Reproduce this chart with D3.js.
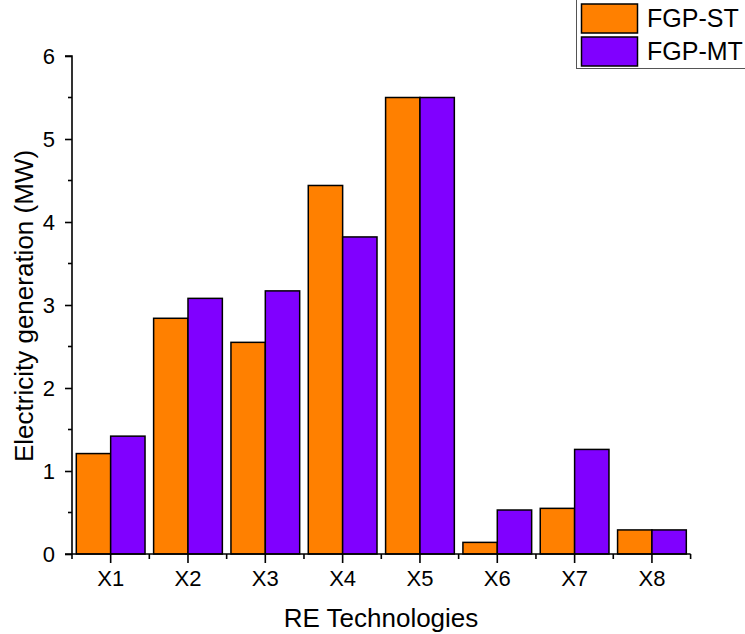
<!DOCTYPE html>
<html><head><meta charset="utf-8">
<script src="https://cdn.jsdelivr.net/npm/d3@7"></script>
<style>body{margin:0;background:#fff}svg{display:block;font-family:"Liberation Sans",Arial,sans-serif}</style>
</head><body>
<svg id="c" width="745" height="634"></svg>
<script>
const categories = ["X1","X2","X3","X4","X5","X6","X7","X8"];
const seriesNames = ["FGP-ST","FGP-MT"];
const stValues = [1.21, 2.84, 2.55, 4.44, 5.50, 0.14, 0.55, 0.29];
const mtValues = [1.42, 3.08, 3.17, 3.82, 5.50, 0.53, 1.26, 0.29];
const yTicks = [0,1,2,3,4,5,6];
const colors = ["#FF8000","#8000FF"];

const svg = d3.select("#c");
const L=72, R=690.6, T=56, B=554;
const x = d3.scaleBand().domain(categories).range([L,R]).paddingInner(0).paddingOuter(0);
const xs = d3.scaleBand().domain(seriesNames).range([0,x.bandwidth()]).paddingInner(0).paddingOuter(0.125);
const y = d3.scaleLinear().domain([0,6]).range([B,T]);

const data = categories.map((c,i)=>({c, vals:[stValues[i], mtValues[i]]}));
const g = svg.append("g");
data.forEach(d=>{
  d.vals.forEach((v,j)=>{
    g.append("rect")
      .attr("x", x(d.c)+xs(seriesNames[j]))
      .attr("y", y(v))
      .attr("width", xs.bandwidth())
      .attr("height", y(0)-y(v))
      .attr("fill", colors[j]).attr("stroke","#000").attr("stroke-width",1.5);
  });
});

// Y axis
const yAx = svg.append("g").attr("transform",`translate(${L},0)`)
  .call(d3.axisLeft(y).tickValues(yTicks).tickFormat(d3.format("d")).tickSize(7).tickPadding(10));
yAx.attr("font-family",null).attr("font-size",null);
yAx.select(".domain").attr("d",`M-7,${T}H0V${B}`).attr("stroke-width",1.6);
yAx.selectAll(".tick line").attr("stroke-width",1.6);
yAx.selectAll("text").attr("font-size",22).attr("fill","#000");
const yMinor = d3.range(0.5,6,1);
yAx.selectAll(".minor").data(yMinor).enter().append("line").attr("class","minor")
  .attr("x1",-4).attr("x2",0).attr("y1",d=>y(d)).attr("y2",d=>y(d)).attr("stroke","#000").attr("stroke-width",1.6);

// X axis
const xAx = svg.append("g").attr("transform",`translate(0,${B})`)
  .call(d3.axisBottom(x).tickSize(9).tickPadding(7));
xAx.attr("font-family",null).attr("font-size",null);
xAx.select(".domain").attr("d",`M${L-7},0H${R}`).attr("stroke-width",1.6);
xAx.selectAll(".tick line").attr("stroke-width",1.6);
xAx.selectAll("text").attr("font-size",22).attr("fill","#000");
const xMinor = categories.map(c=>x(c)).concat([R]);
xAx.selectAll(".minor").data(xMinor).enter().append("line").attr("class","minor")
  .attr("x1",d=>d).attr("x2",d=>d).attr("y1",0).attr("y2",5).attr("stroke","#000").attr("stroke-width",1.6);

// Titles
svg.append("text").attr("x",381).attr("y",627).attr("text-anchor","middle")
  .attr("font-size",26).text("RE Technologies");
svg.append("text").attr("transform",`translate(33,306) rotate(-90)`).attr("text-anchor","middle")
  .attr("font-size",26).text("Electricity generation (MW)");

// Legend
const lg = svg.append("g");
lg.append("rect").attr("x",576.5).attr("y",-1).attr("width",180).attr("height",69.5)
  .attr("fill","#fff").attr("stroke","#555").attr("stroke-width",1);
seriesNames.forEach((n,j)=>{
  lg.append("rect").attr("x",581.5).attr("y",4+j*33).attr("width",56).attr("height",29)
    .attr("fill",colors[j]).attr("stroke","#000").attr("stroke-width",1.5);
  lg.append("text").attr("x",647).attr("y",27+j*33).attr("font-size",25).text(n);
});
</script>
</body></html>
